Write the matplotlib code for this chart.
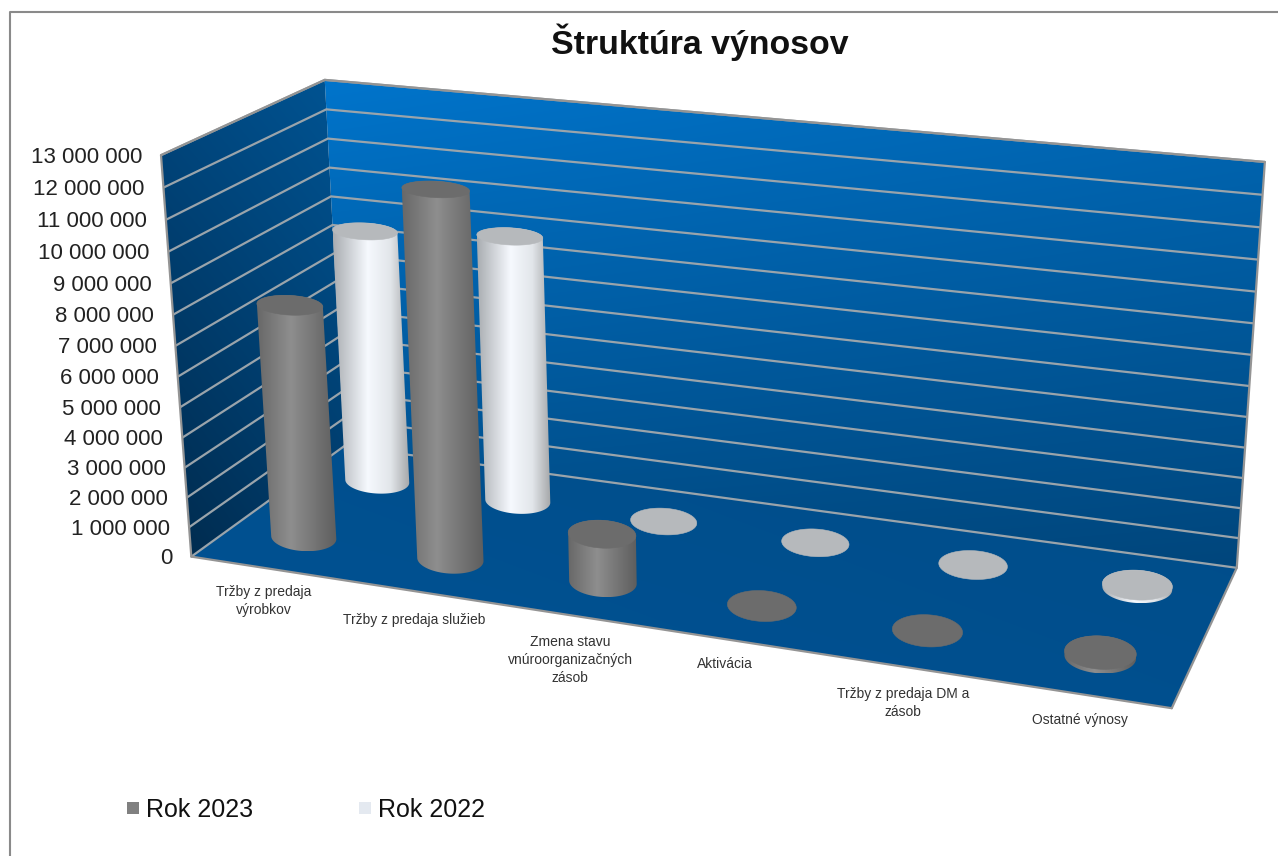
import numpy as np
import matplotlib
matplotlib.use("Agg")
import matplotlib.pyplot as plt
from matplotlib.colors import LinearSegmentedColormap, to_rgb
from matplotlib.patches import Polygon

plt.rcParams['font.family'] = ['Liberation Sans', 'DejaVu Sans']

title = "Štruktúra výnosov"
categories = ["Tržby z predaja\nvýrobkov", "Tržby z predaja služieb",
              "Zmena stavu\nvnúroorganizačných\nzásob", "Aktivácia",
              "Tržby z predaja DM a\nzásob", "Ostatné výnosy"]
series_names = ["Rok 2023", "Rok 2022"]
rok_2023 = [7800000, 12000000, 1600000, 0, 0, 130000]
rok_2022 = [8750000, 9100000, 0, 0, 0, 100000]
ticks = list(range(0, 13000001, 1000000))
tick_labels = [f"{t:,}".replace(",", " ") for t in ticks]
z_max = 13000000

W, H = 1278, 856
fig = plt.figure(figsize=(W / 100, H / 100), dpi=100)
ax = fig.add_axes([0, 0, 1, 1])

# box corners (category, depth, share of z_max) -> where they sit on the picture
box = np.array([[0, 0, 0], [6, 0, 0], [6, 1, 0], [0, 1, 0],
                [0, 0, 1], [0, 1, 1], [6, 1, 1]], dtype=float)
screen = np.array([[190.7, 556.7], [1171.7, 708.3], [1236.7, 567.7], [345, 446],
                   [161.7, 155], [324, 80], [1265, 162]], dtype=float)
rows = []
for (a, b, c), (u, v) in zip(box, screen):
    rows.append([a, b, c, 1, 0, 0, 0, 0, -u * a, -u * b, -u * c, -u])
    rows.append([0, 0, 0, 0, a, b, c, 1, -v * a, -v * b, -v * c, -v])
cam = np.linalg.svd(np.array(rows))[2][-1].reshape(3, 4)


def corner(x, y, z):
    p = cam @ np.array([x, y, z / z_max, 1.0])
    return (p[0] / p[2], p[1] / p[2])


def clipped_image(img, points, zorder):
    xs = [p[0] for p in points]
    ys = [p[1] for p in points]
    im = ax.imshow(img, extent=(min(xs), max(xs), max(ys), min(ys)), origin="upper",
                   aspect="auto", interpolation="bilinear", zorder=zorder)
    clip = Polygon(points, closed=True, transform=ax.transData, fc="none", ec="none")
    ax.add_patch(clip)
    im.set_clip_path(clip)


def gradient_wall(points, tl, tr, bl, br, zorder=1):
    # bilinear colour fill clipped to the wall polygon
    u, v = np.meshgrid(np.linspace(0, 1, 64), np.linspace(0, 1, 64))
    u, v = u[..., None], v[..., None]
    img = ((1 - u) * (1 - v) * np.array(to_rgb(tl)) + u * (1 - v) * np.array(to_rgb(tr))
           + (1 - u) * v * np.array(to_rgb(bl)) + u * v * np.array(to_rgb(br)))
    clipped_image(img, points, zorder)


lf0, lb0 = corner(0, 0, 0), corner(0, 1, 0)
lf1, lb1 = corner(0, 0, z_max), corner(0, 1, z_max)
rf0, rb0, rb1 = corner(6, 0, 0), corner(6, 1, 0), corner(6, 1, z_max)

gradient_wall([lb1, rb1, rb0, lb0], "#0074cb", "#0068b6", "#004b84", "#00467c")
gradient_wall([lf1, lb1, lb0, lf0], "#00477f", "#005493", "#002a4c", "#003a68")
gradient_wall([lf0, lb0, rb0, rf0], "#00508f", "#004d89", "#005294", "#004f8e")

# gridlines on both walls
for t in ticks:
    a = corner(0, 0, t)
    b = corner(0, 1, t)
    c = corner(6, 1, t)
    ax.plot([a[0], b[0], c[0]], [a[1], b[1], c[1]], color="#9aa4ab", lw=1.6, zorder=2,
            solid_joinstyle="miter", solid_capstyle="butt")

# wall and floor edges
for p, q in [(lf0, lf1), (lf1, lb1), (lb1, rb1), (rb1, rb0), (rb0, rf0), (rf0, lf0)]:
    ax.plot([p[0], q[0]], [p[1], q[1]], color="#949494", lw=1.6, zorder=3,
            solid_capstyle="round")

gray_side = LinearSegmentedColormap.from_list(
    "gray_side", [(0, "#686868"), (0.42, "#8e8e8e"), (1, "#5e5e5e")])
white_side = LinearSegmentedColormap.from_list(
    "white_side", [(0, "#a9adb1"), (0.45, "#f6f9fe"), (0.75, "#e2e6ea"), (1, "#a5a7a9")])


def disk(cat, depth, z, th):
    cu, cv = corner(cat, depth, z)
    a = 18.2 + 0.1 * abs(corner(cat + 0.5, depth, z)[0] - corner(cat - 0.5, depth, z)[0])
    b = 0.115 * (1 - 0.2 * z / z_max) * abs(corner(cat, depth + 0.5, z)[1] - corner(cat, depth - 0.5, z)[1])
    # ellipses lean only a little, less than the true projection would give
    return cu + a * np.cos(th), cv + b * np.sin(th) + 0.05 * a * np.cos(th)


def cylinder(cat, depth, value, side_map, top_col, zorder):
    th = np.linspace(0, 2 * np.pi, 121)
    tx, ty = disk(cat, depth, value, th)
    if value > 0:
        low = np.linspace(np.pi, 0, 61)
        high = np.linspace(np.pi, 2 * np.pi, 61)
        bx, by = disk(cat, depth, 0, low)
        ux, uy = disk(cat, depth, value, high)
        outline = list(zip(bx, by)) + list(zip(ux[::-1], uy[::-1]))
        img = side_map(np.linspace(0, 1, 128))[None, :, :3]
        clipped_image(img, outline, zorder)
    ax.fill(tx, ty, color=top_col, lw=0.4, zorder=zorder + 0.1)


# back row first, the nearer row covers it
for i, v in enumerate(rok_2022):
    cylinder(i + 0.5, 0.75, v, white_side, "#b6b9bc", 4 + i * 0.2)
for i, v in enumerate(rok_2023):
    cylinder(i + 0.5, 0.25, v, gray_side, "#6c6c6c", 6 + i * 0.2)

ax.set_xlim(0, W)
ax.set_ylim(H, 0)
ax.axis("off")

# chart frame, open on the right and at the bottom
ax.plot([9.5, 9.5, W], [H, 11.5, 11.5], color="#8a8a8a", lw=1.5, zorder=1)

ax.text(699.5, 42, title, fontsize=24.4, fontweight="bold", ha="center", va="center",
        color="#111111")

for t, lab in zip(ticks, tick_labels):
    px, py = corner(0, 0, t)
    ax.text(px - 19, py + 2, lab, fontsize=16, ha="right", va="center", color="#222222")

label_x = [264, 414, 570, 725, 903, 1080]
label_y = [601, 620, 660, 664, 703, 720]
for lab, lx, ly in zip(categories, label_x, label_y):
    ax.text(lx, ly, lab, fontsize=10, ha="center", va="center", color="#333333",
            linespacing=1.4)

legend_x = [127, 359]
legend_cols = ["#808080", "#e4e9f0"]
for lx, name, col in zip(legend_x, series_names, legend_cols):
    ax.fill([lx, lx + 12, lx + 12, lx], [802, 802, 814, 814], color=col, lw=0)
    ax.text(lx + 19, 810, name, fontsize=18, ha="left", va="center", color="#111111")

fig.savefig("out.png", dpi=100, facecolor="white")
